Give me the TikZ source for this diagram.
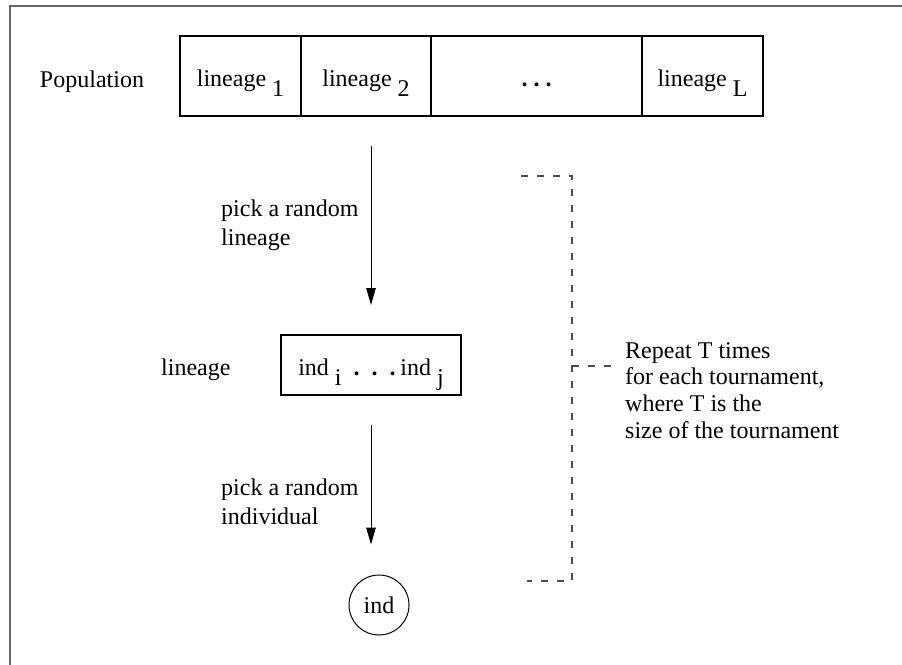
\documentclass[tikz,border=0pt]{standalone}
\usepackage{fontspec}
\setmainfont{Liberation Serif}
\usepackage{tikz}
\usetikzlibrary{positioning}
\usetikzlibrary{arrows.meta}

\newcommand{\lsub}[1]{\raisebox{-0.45em}{#1}}
\newcommand{\bigdot}{\textbf{.}}

\tikzset{
    cell/.style = {draw, line width = 1.2pt, minimum height = 80pt, inner sep = 0pt,
                   outer sep = 0pt, text height = 24pt, text depth = 4pt},
    pick/.style = {->, >={Triangle[length=17pt, width=9.5pt]}, line width = 1pt,
                   shorten > = 30pt, shorten < = 30pt},
    bracket/.style = {draw = black!70, line width = 1.2pt, dash pattern = on 7pt off 9pt},
    note/.style = {align = left, inner sep = 0pt}
}

\begin{document}
\begin{tikzpicture}[x = 1pt, y = -1pt, font = \fontsize{24}{28.5}\selectfont]
                    \useasboundingbox (0, 0) rectangle (902, 664);
                    \draw[black!60, line width = 1.5pt] (10, 680) |- (920, 6);

                    % the population row
                    \node (pop) [anchor = base, inner sep = 0pt] at (92, 87) {Population};
                    \node[cell, minimum width = 121pt] (l1) at (240.5, 76) {lineage\ \lsub{1}};
                    \node[cell, minimum width = 130pt, right = 0pt of l1] (l2) {lineage\ \lsub{2}};
                    \node[cell, minimum width = 211pt, right = 0pt of l2] (ldots) {\bigdot\ \bigdot\ \bigdot};
                    \node[cell, minimum width = 121pt, right = 0pt of ldots] (lL) {lineage\ \lsub{L}};

                    % one lineage, then one individual
                    \node[cell, minimum width = 180pt, minimum height = 60pt] (mid) at (371, 365)
                        {ind\ \lsub{i}\hspace{0.5em}\bigdot\hspace{0.5em}\bigdot\hspace{0.5em}\bigdot\hspace{0.2em}ind\ \lsub{j}};
                    \node (lin) [anchor = base west, inner sep = 0pt] at (161, 375) {lineage};
                    \node[draw, circle, line width = 1pt, minimum size = 60pt, inner sep = 0pt] (ind) at (379, 605) {ind};

                    \draw[pick] (l2.south -| mid.north) -- (mid.north);
                    \draw[pick] (mid.south) -- (mid.south |- ind.north);
                    \node[note, anchor = north west] (pickl) at (221, 200) {pick a random\\lineage};
                    \node[note, anchor = north west] (picki) at (221, 479) {pick a random\\individual};

                    % repeat bracket
                    \coordinate (btop) at (521, 176);
                    \coordinate (bbot) at (527, 581);
                    \coordinate (bmid) at (572, 366);
                    \coordinate (bend) at (612, 366);
                    \draw[bracket] (btop) -| (bmid) |- (bbot);
                    \draw[bracket] (bmid) -- (bend);
                    \node[note, anchor = north west, font = \fontsize{24}{26.7}\selectfont] (rep) at (625, 342)
                        {Repeat T times\\for each tournament,\\where T is the\\size of the tournament};
                \end{tikzpicture}
\end{document}
